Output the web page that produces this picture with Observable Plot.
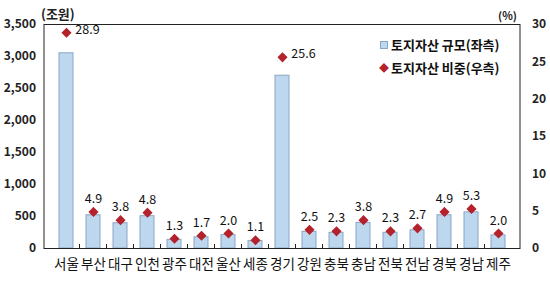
<!DOCTYPE html>
<html><head><meta charset="utf-8">
<script src="https://cdn.jsdelivr.net/npm/d3@7"></script>
<script src="https://cdn.jsdelivr.net/npm/@observablehq/plot@0.6"></script>
<style>
body{margin:0;background:#fff;}
#wrap{position:relative;width:550px;height:282px;font-family:"Noto Sans CJK KR","Noto Sans",sans-serif;}
#wrap svg{position:absolute;left:0;top:0;}
.unit{position:absolute;font-size:13px;font-weight:bold;color:#222;line-height:16px;}
.legend{position:absolute;left:379px;top:33px;font-size:13px;font-weight:bold;color:#111;line-height:23px;white-space:nowrap;}
.legend .sym{display:inline-block;width:9px;margin-right:3px;text-align:center;}
.sq{display:inline-block;width:6px;height:6px;background:#BDD7EE;border:1px solid #8AA6C4;vertical-align:1px;}
.dm{color:#B4222C;font-size:10px;vertical-align:1px;}
</style></head><body><div id="wrap"></div>
<script>
const regions = ["서울","부산","대구","인천","광주","대전","울산","세종","경기","강원","충북","충남","전북","전남","경북","경남","제주"];
const landAssets = [3050,520,395,505,135,175,210,115,2700,260,245,400,245,285,520,565,205];
const landShare = [28.9,4.9,3.8,4.8,1.3,1.7,2.0,1.1,25.6,2.5,2.3,3.8,2.3,2.7,4.9,5.3,2.0];
const leftTicks = [0,500,1000,1500,2000,2500,3000,3500];
const rightTicks = [0,5,10,15,20,25,30];
const seriesNames = ["토지자산 규모(좌측)","토지자산 비중(우측)"];
const unitLabels = ["(조원)","(%)"];

const W = 550, H = 282;
const mL = 43.5, mR = 30.5, mT = 24, mB = 34;
const yMax = leftTicks[leftTicks.length-1];
const k = yMax / rightTicks[rightTicks.length-1];
const step = (W - mL - mR) / regions.length;
const innerH = H - mT - mB;
const tickLen = 4 * yMax / innerH;
const sideLabel = new Set(["서울","경기"]);

const data = regions.map((r,i)=>({region:r, assets:landAssets[i], share:landShare[i]}));
const font = '"Noto Sans CJK KR","Noto Sans",sans-serif';

const chart = Plot.plot({
  width: W, height: H,
  marginLeft: mL, marginRight: mR, marginTop: mT, marginBottom: mB,
  style: {fontFamily: font, background: "transparent", color: "#111"},
  x: {domain: regions, type: "band", padding: 0.5, align: 0.5},
  y: {domain: [0, yMax]},
  marks: [
    Plot.barY(data, {x:"region", y:"assets", fill:"#BDD7EE", stroke:"#8AA6C4", strokeWidth:1}),
    Plot.ruleX(regions.slice(1), {x: d=>d, dx: -step/2, y1: 0, y2: tickLen, stroke:"#222", strokeWidth:1}),
    Plot.frame({stroke:"#222", strokeWidth:1}),
    Plot.dot(data, {x:"region", y: d=>d.share*k, symbol:"diamond2", r:3.6, fill:"#B4222C", stroke:"#B4222C"}),
    Plot.text(data.filter(d=>!sideLabel.has(d.region)), {x:"region", y: d=>d.share*k, text: d=>d.share.toFixed(1), dy:-13, fontSize:12.5, fill:"#111"}),
    Plot.text(data.filter(d=>sideLabel.has(d.region)), {x:"region", y: d=>d.share*k, text: d=>d.share.toFixed(1), dx:21, dy:-3, fontSize:12.5, fill:"#111"}),
    Plot.axisY(leftTicks, {anchor:"left", tickSize:0, tickPadding:8, tickFormat: d3.format(","), fontSize:12, fontWeight:"bold", fill:"#222", label:null}),
    Plot.axisY(rightTicks.map(v=>v*k), {anchor:"right", tickSize:0, tickPadding:12, tickFormat: d=>String(Math.round(d/k)), fontSize:12, fontWeight:"bold", fill:"#222", textAnchor:"start", label:null}),
    Plot.axisX({tickSize:0, tickPadding:11, fontSize:13.5, fill:"#111", label:null})
  ]
});

const wrap = document.getElementById("wrap");
wrap.appendChild(chart);

const u1 = document.createElement("div");
u1.className = "unit"; u1.style.left = "41px"; u1.style.top = "6px"; u1.textContent = unitLabels[0];
wrap.appendChild(u1);
const u2 = document.createElement("div");
u2.className = "unit"; u2.style.left = "498px"; u2.style.top = "7px"; u2.style.fontSize = "11px"; u2.textContent = unitLabels[1];
wrap.appendChild(u2);

const lg = document.createElement("div");
lg.className = "legend";
lg.innerHTML = `<div><span class="sym"><span class="sq"></span></span>${seriesNames[0]}</div>
<div><span class="sym"><span class="dm">◆</span></span>${seriesNames[1]}</div>`;
wrap.appendChild(lg);
</script></body></html>
